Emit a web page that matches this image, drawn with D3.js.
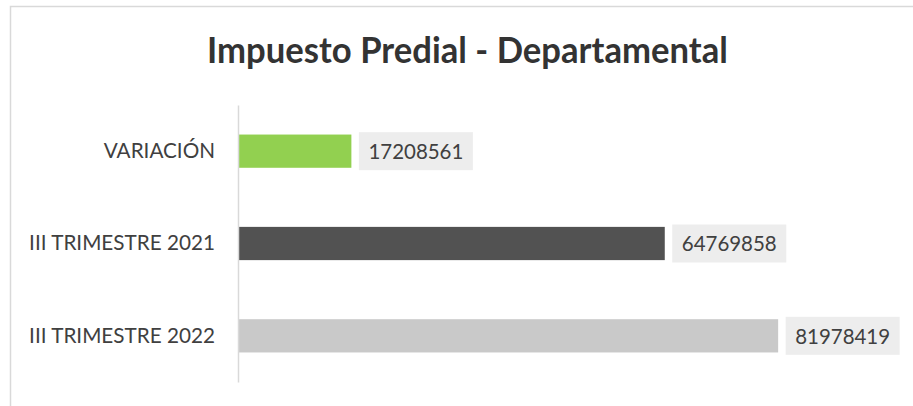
<!DOCTYPE html>
<meta charset="utf-8">
<head>
	<title>Impuesto Predial - Departamental</title>
</head>
<style>
	body { margin: 0; background: #fff; }
	text { font-family: Lato, "Open Sans", sans-serif; }
</style>
<body>
	<svg width="913" height="406"></svg>

	<script src="https://cdn.jsdelivr.net/npm/d3@7/dist/d3.min.js"></script>
	<script>

		// data
		var categories = ["VARIACIÓN", "III TRIMESTRE 2021", "III TRIMESTRE 2022"];
		var values = [17208561, 64769858, 81978419];
		var barColors = ["#92D050", "#525252", "#C9C9C9"];
		var title = "Impuesto Predial - Departamental";

		var svg = d3.select("svg");

		// outer chart frame (clipped by the window on right and bottom)
		svg.append("rect")
			.attr("x", 10.5)
			.attr("y", 6.5)
			.attr("width", 1000)
			.attr("height", 500)
			.attr("fill", "none")
			.attr("stroke", "#D9D9D9")
			.attr("stroke-width", 1.5);

		var x = d3.scaleLinear()
			.domain([0, 90000000])
			.range([238, 831]);

		var y = d3.scaleBand()
			.domain(categories)
			.range([105, 382])
			.paddingInner(0.64)
			.paddingOuter(0.32);

		// squeeze text horizontally to a target width (the source picture was narrowed)
		function fitWidth(sel, target, anchorX) {
			sel.each(function() {
				var w = this.getComputedTextLength();
				var s = target / w;
				d3.select(this).attr("transform",
					"translate(" + anchorX + ",0) scale(" + s + ",1) translate(" + (-anchorX) + ",0)");
			});
		}

		// title
		var t = svg.append("text")
			.attr("x", 467.5)
			.attr("y", 63)
			.attr("text-anchor", "middle")
			.attr("font-size", 36)
			.attr("font-weight", "bold")
			.attr("fill", "#333333")
			.text(title);
		fitWidth(t, 521, 467.5);

		var data = categories.map(function(c, i) {
			return {name: c, value: values[i], color: barColors[i]};
		});

		// bars
		svg.selectAll(".bar")
			.data(data)
			.enter().append("rect")
			.attr("class", "bar")
			.attr("x", x(0))
			.attr("y", function(d) { return y(d.name); })
			.attr("width", function(d) { return x(d.value) - x(0); })
			.attr("height", y.bandwidth())
			.attr("fill", function(d) { return d.color; });

		// category axis
		var yAxis = d3.axisLeft(y).tickSize(0).tickPadding(23);
		var ga = svg.append("g")
			.attr("transform", "translate(" + x(0) + ",0)")
			.call(yAxis);
		ga.select(".domain")
			.attr("stroke", "#D9D9D9")
			.attr("stroke-width", 1.5);
		ga.selectAll(".tick text")
			.attr("font-family", "Lato, sans-serif")
			.attr("font-size", 21)
			.attr("fill", "#404040");
		// common horizontal squeeze for all category labels
		var ref = ga.selectAll(".tick text").filter(function(d) { return d === "III TRIMESTRE 2021"; }).node();
		var sx = 186 / ref.getComputedTextLength();
		ga.selectAll(".tick text")
			.attr("transform", "translate(-23,0) scale(" + sx + ",1) translate(23,0)");

		// value labels with grey boxes
		var lab = svg.selectAll(".lab")
			.data(data)
			.enter().append("g")
			.attr("class", "lab")
			.attr("transform", function(d) {
				return "translate(" + (x(d.value) + 7.5) + "," + (y(d.name) + y.bandwidth() / 2) + ")";
			});

		lab.append("rect")
			.attr("x", 0)
			.attr("y", -19)
			.attr("width", 114)
			.attr("height", 38)
			.attr("fill", "#EDEDED");

		lab.append("text")
			.attr("x", 57)
			.attr("y", 0)
			.attr("dy", "0.36em")
			.attr("text-anchor", "middle")
			.attr("font-size", 22)
			.attr("fill", "#404040")
			.text(function(d) { return d.value; })
			.call(fitWidth, 95, 57);

	</script>
</body>
</html>
